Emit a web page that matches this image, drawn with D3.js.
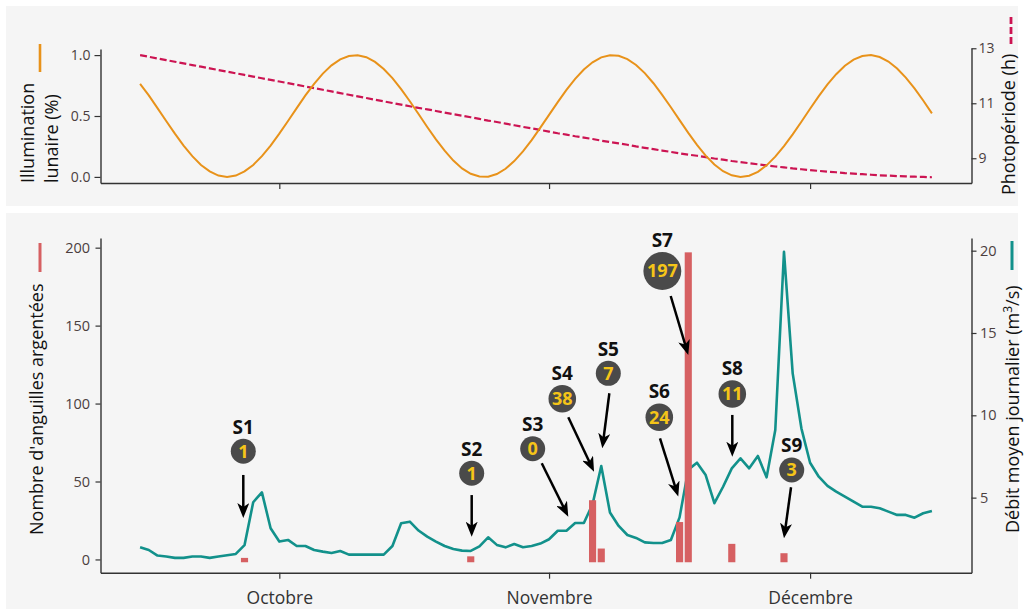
<!DOCTYPE html>
<html><head><meta charset="utf-8">
<script src="https://cdn.jsdelivr.net/npm/d3@7"></script>
<style>
html,body{margin:0;padding:0;background:#fff;}
svg{display:block;font-family:"Open Sans",sans-serif;}
</style></head><body>
<svg id="chart" width="1024" height="612"></svg>
<script>
// ---------------- DATA ----------------
const startDate = "2022-09-15";           // day index 0
const monthTicks = ["2022-10-01", "2022-11-01", "2022-12-01"];
const monthLabels = ["Octobre", "Novembre", "Décembre"];

const lunarIllumination = [
  0.764,0.669,0.565,0.459,0.355,0.257,0.170,0.098,0.045,0.011,
  0.000,0.011,0.045,0.098,0.170,0.257,0.355,0.459,0.565,0.669,
  0.764,0.848,0.916,0.965,0.993,0.999,0.983,0.944,0.886,0.811,
  0.721,0.621,0.516,0.410,0.308,0.215,0.134,0.070,0.026,0.003,
  0.002,0.024,0.067,0.130,0.210,0.302,0.404,0.509,0.614,0.714,
  0.805,0.882,0.941,0.981,0.999,0.994,0.967,0.919,0.852,0.769,
  0.674,0.572,0.466,0.361,0.263,0.175,0.102,0.047,0.013,0.000,
  0.010,0.042,0.095,0.166,0.252,0.349,0.453,0.559,0.663,0.759,
  0.843,0.912,0.963,0.992,1.000,0.984,0.947,0.890,0.815,0.726,
  0.627,0.522
];

const photoperiodHours = [
  12.75,12.69,12.63,12.57,12.51,12.45,12.39,12.33,12.27,12.21,
  12.15,12.09,12.03,11.97,11.91,11.85,11.79,11.73,11.67,11.61,
  11.55,11.49,11.43,11.37,11.31,11.25,11.19,11.13,11.07,11.01,
  10.95,10.89,10.83,10.78,10.72,10.66,10.60,10.55,10.49,10.43,
  10.37,10.32,10.26,10.20,10.14,10.09,10.03,9.97,9.91,9.86,
  9.80,9.75,9.70,9.64,9.59,9.54,9.49,9.43,9.38,9.33,
  9.28,9.23,9.18,9.13,9.09,9.04,8.99,8.95,8.90,8.86,
  8.82,8.78,8.74,8.70,8.67,8.63,8.60,8.57,8.54,8.51,
  8.49,8.46,8.44,8.42,8.40,8.38,8.37,8.35,8.34,8.33,
  8.32,8.31
];

const dailyFlow = [
  1.99,1.82,1.48,1.42,1.34,1.34,1.42,1.42,1.34,1.42,
  1.50,1.58,2.11,4.72,5.32,3.14,2.33,2.43,2.06,2.06,
  1.82,1.72,1.64,1.76,1.54,1.54,1.54,1.54,1.54,2.06,
  3.44,3.54,3.00,2.63,2.33,2.06,1.88,1.78,1.76,2.04,
  2.59,2.13,1.98,2.18,1.99,2.06,2.21,2.47,2.99,2.99,
  3.46,3.46,4.60,6.92,4.10,3.28,2.73,2.55,2.28,2.24,
  2.24,2.43,3.80,6.70,7.12,6.37,4.66,5.66,6.78,7.39,
  6.78,7.53,6.23,9.11,19.93,12.55,9.21,7.12,6.27,5.71,
  5.36,5.06,4.75,4.45,4.45,4.35,4.15,3.95,3.95,3.78,
  4.05,4.19
];

const barDayIndex = [12, 38, 52, 53, 62, 63, 68, 74];
const barCounts   = [1, 2, 38, 7, 24, 197, 10, 4];

const sessionNames      = ["S1","S2","S3","S4","S5","S6","S7","S8","S9"];
const sessionTotals     = ["1","1","0","38","7","24","197","11","3"];
const sessionLabelDay   = [11.86, 38.11, 45.12, 48.52, 53.81, 59.67, 60.02, 68.06, 74.89];
const sessionLabelCount = [69.4, 55.3, 71.0, 103.1, 119.4, 91.2, 185.0, 106.1, 57.4];
const arrowFromDay      = [11.86, 38.11, 46.16, 49.21, 53.93, 59.75, 60.98, 68.06, 74.81];
const arrowFromCount    = [54.2, 41.3, 61.7, 91.2, 106.6, 77.7, 169.0, 92.7, 46.3];
const arrowToDay        = [11.86, 38.11, 49.21, 52.17, 53.12, 61.85, 63.0, 68.06, 74.0];
const arrowToCount      = [26.6, 14.6, 27.4, 56.3, 71.3, 40.3, 131.1, 65.9, 13.6];

const illumTicks = [0, 0.5, 1];
const photoTicks = [9, 11, 13];
const countTicks = [0, 50, 100, 150, 200];
const flowTicks  = [5, 10, 15, 20];

// ---------------- STYLE ----------------
const C = {
  panel: "#f5f5f5", axis: "#333333", tick: "#4b3e3e",
  orange: "#e8921a", crimson: "#cc1452", teal: "#12918b",
  bar: "#d66062", bubble: "#4a4a4a", num: "#f5c518"
};

const svg = d3.select("#chart");
const DAY = 86400000;
const t0 = new Date(startDate + "T00:00:00Z");
const dayDate = i => new Date(t0.getTime() + i * DAY);
const nDays = dailyFlow.length;
const pad = 0.05 * (nDays - 1);

const L = 100.5, R = 971.5;
const x = d3.scaleUtc().domain([dayDate(-pad), dayDate(nDays - 1 + pad)]).range([L, R]);

// panels
svg.append("rect").attr("x", 6).attr("y", 6).attr("width", 1012).attr("height", 200).attr("fill", C.panel);
svg.append("rect").attr("x", 6).attr("y", 213).attr("width", 1012).attr("height", 396).attr("fill", C.panel);

// ---------- TOP PANEL ----------
const topB = 183, topT = 49;
const yIll = d3.scaleLinear().domain([-0.05, 1.05]).range([topB, topT]);
const yPh = d3.scaleLinear().domain([8.1, 13.01]).range([topB, 48]);

function styleAxis(g, fs) {
  g.select(".domain").attr("stroke", C.axis).attr("stroke-width", 1.4);
  g.selectAll(".tick line").attr("stroke", C.axis).attr("stroke-width", 1.2);
  g.selectAll(".tick text").attr("fill", C.tick).attr("font-size", fs)
    .attr("font-family", "Open Sans, sans-serif");
}

svg.append("g").attr("transform", `translate(${L},0)`)
  .call(d3.axisLeft(yIll).tickValues(illumTicks).tickFormat(d3.format(".1f")).tickSize(6).tickSizeOuter(0).tickPadding(4))
  .call(g => styleAxis(g, 14));
svg.append("g").attr("transform", `translate(${R},0)`)
  .call(d3.axisRight(yPh).tickValues(photoTicks).tickFormat(d3.format("d")).tickSize(5).tickSizeOuter(0).tickPadding(2))
  .call(g => styleAxis(g, 14));
svg.append("g").attr("transform", `translate(0,${topB})`)
  .call(d3.axisBottom(x).tickValues(monthTicks.map(d => new Date(d + "T00:00:00Z"))).tickFormat("").tickSize(6).tickSizeOuter(0))
  .call(g => styleAxis(g, 14));

svg.append("path").datum(photoperiodHours)
  .attr("fill", "none").attr("stroke", C.crimson).attr("stroke-width", 2.2)
  .attr("stroke-dasharray", "7,3")
  .attr("d", d3.line().x((d, i) => x(dayDate(i))).y(d => yPh(d)));
svg.append("path").datum(lunarIllumination)
  .attr("fill", "none").attr("stroke", C.orange).attr("stroke-width", 2)
  .attr("d", d3.line().x((d, i) => x(dayDate(i))).y(d => yIll(d)));

function vtext(xp, yp, str, size, anchor) {
  return svg.append("text").attr("transform", `translate(${xp},${yp}) rotate(-90)`)
    .attr("text-anchor", anchor || "start").attr("font-size", size).attr("fill", "#111").text(str);
}
vtext(33.5, 183, "Illumination", 18);
vtext(58, 183, "lunaire (%)", 18);
svg.append("line").attr("x1", 40).attr("x2", 40).attr("y1", 44).attr("y2", 72)
  .attr("stroke", C.orange).attr("stroke-width", 2.6);

vtext(1015, 195, "Photopériode (h)", 18);
svg.append("line").attr("x1", 1011).attr("x2", 1011).attr("y1", 17).attr("y2", 45)
  .attr("stroke", C.crimson).attr("stroke-width", 2.8).attr("stroke-dasharray", "7,3");

// ---------- BOTTOM PANEL ----------
const botB = 572.7, botT = 238;
const yCnt = d3.scaleLinear().domain([-8.5, 206.2]).range([botB, botT]);
const yFlow = d3.scaleLinear().domain([0.44, 20.77]).range([botB, botT]);

svg.append("g").attr("transform", `translate(${L},0)`)
  .call(d3.axisLeft(yCnt).tickValues(countTicks).tickFormat(d3.format("d")).tickSize(5).tickSizeOuter(0).tickPadding(5.5))
  .call(g => styleAxis(g, 14.5));
svg.append("g").attr("transform", `translate(${R},0)`)
  .call(d3.axisRight(yFlow).tickValues(flowTicks).tickFormat(d3.format("d")).tickSize(5).tickSizeOuter(0).tickPadding(3.5))
  .call(g => styleAxis(g, 14.5));
svg.append("g").attr("transform", `translate(0,${botB})`)
  .call(d3.axisBottom(x).tickValues(monthTicks.map(d => new Date(d + "T00:00:00Z")))
        .tickFormat((d, i) => monthLabels[i]).tickSize(6).tickSizeOuter(0).tickPadding(13))
  .call(g => styleAxis(g, 17.5))
  .call(g => g.selectAll(".tick text").attr("fill", "#333"));

svg.append("path").datum(dailyFlow)
  .attr("fill", "none").attr("stroke", C.teal).attr("stroke-width", 2.6)
  .attr("stroke-linejoin", "round")
  .attr("d", d3.line().x((d, i) => x(dayDate(i))).y(d => yFlow(d)));

const dayW = x(dayDate(1)) - x(dayDate(0));
const bw = dayW * 0.82;
svg.append("g").selectAll("rect").data(barDayIndex).join("rect")
  .attr("x", d => x(dayDate(d)) - bw / 2)
  .attr("width", bw)
  .attr("y", (d, i) => yCnt(barCounts[i]))
  .attr("height", (d, i) => yCnt(0) + 2.8 - yCnt(barCounts[i]))
  .attr("fill", C.bar);

// titles
vtext(43, 535, "Nombre d'anguilles argentées", 18);
svg.append("line").attr("x1", 40).attr("x2", 40).attr("y1", 243).attr("y2", 272)
  .attr("stroke", C.bar).attr("stroke-width", 3);

const rt = vtext(1019, 533, "Débit moyen journalier (m", 18);
rt.append("tspan").attr("font-size", 12).attr("dy", -7).text("3");
rt.append("tspan").attr("dy", 7).text("/s)");
svg.append("line").attr("x1", 1012).attr("x2", 1012).attr("y1", 241).attr("y2", 270)
  .attr("stroke", C.teal).attr("stroke-width", 3);

// arrows
const defs = svg.append("defs");
defs.append("marker").attr("id", "ah").attr("markerUnits", "userSpaceOnUse")
  .attr("viewBox", "0 -6 15 12").attr("refX", 7).attr("refY", 0)
  .attr("markerWidth", 15).attr("markerHeight", 12).attr("orient", "auto")
  .append("path").attr("d", "M0,-6 L15,0 L0,6 L4,0 Z").attr("fill", "#000");

sessionNames.forEach((nm, i) => {
  const x1 = x(dayDate(arrowFromDay[i])), y1 = yCnt(arrowFromCount[i]);
  const x2 = x(dayDate(arrowToDay[i])), y2 = yCnt(arrowToCount[i]);
  const len = Math.hypot(x2 - x1, y2 - y1);
  const s = (len - 8) / len;
  svg.append("line").attr("x1", x1).attr("y1", y1)
    .attr("x2", x1 + (x2 - x1) * s).attr("y2", y1 + (y2 - y1) * s)
    .attr("stroke", "#000").attr("stroke-width", 2.5).attr("marker-end", "url(#ah)");

  const cx = x(dayDate(sessionLabelDay[i])), cy = yCnt(sessionLabelCount[i]);
  const num = svg.append("text").attr("x", cx).attr("y", cy + 18 * 0.357)
    .attr("text-anchor", "middle").attr("font-size", 18).attr("font-weight", 700)
    .attr("fill", C.num).text(sessionTotals[i]);
  const w = num.node().getComputedTextLength();
  const r = Math.max(12.5, w / 2 + 3.5);
  svg.insert("circle", () => num.node()).attr("cx", cx).attr("cy", cy).attr("r", r).attr("fill", C.bubble);
  svg.append("text").attr("x", cx).attr("y", cy - r - 12 + 19 * 0.357)
    .attr("text-anchor", "middle").attr("font-size", 19).attr("font-weight", 700)
    .attr("fill", "#111").text(nm);
});
</script>
</body></html>
